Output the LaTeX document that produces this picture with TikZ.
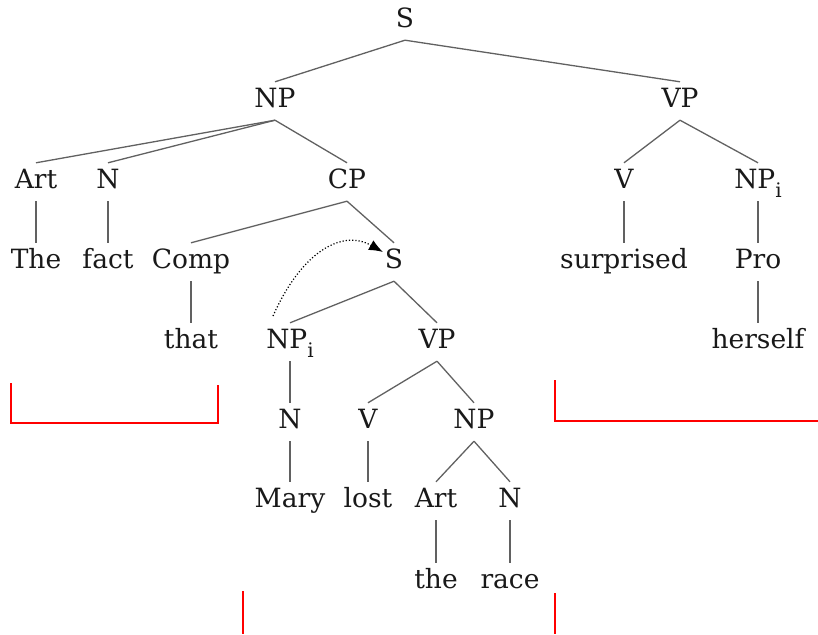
\documentclass[tikz,border=0pt]{standalone}
\usepackage{fontspec}
\setmainfont{DejaVu Serif}
\usetikzlibrary{arrows.meta}
\newcommand{\subi}{\raisebox{-0.32em}{\fontsize{20}{21}\selectfont i}}
\begin{document}
\begin{tikzpicture}[x=1pt,y=-1pt,
  lbl/.style={font=\fontsize{26.5}{29}\selectfont, text height=19pt, text depth=5.5pt, inner xsep=0pt, inner ysep=6.75pt, anchor=center, text=black!90},
  br/.style={draw=black!62, line width=1.3pt},
  bracket/.style={draw=red, line width=1.8pt}]
\useasboundingbox (0,0) rectangle (818,634);
% row 1
\node[lbl] (S) at (405,21) {S};
% row 2
\node[lbl] (NP) at (275,101) {NP};
\node[lbl] (VP) at (680,101) {VP};
% row 3
\node[lbl] (Art) at (36,182) {Art};
\node[lbl] (N) at (108,182) {N};
\node[lbl] (CP) at (347,182) {CP};
\node[lbl] (V) at (624,182) {V};
\node[lbl] (NPi) at (758,182) {NP\subi};
% row 4
\node[lbl] (The) at (36,262) {The};
\node[lbl] (fact) at (108,262) {fact};
\node[lbl] (Comp) at (191,262) {Comp};
\node[lbl] (S2) at (394,262) {S};
\node[lbl] (surprised) at (624,262) {surprised};
\node[lbl] (Pro) at (758,262) {Pro};
% row 5
\node[lbl] (that) at (191,342) {that};
\node[lbl] (NPi2) at (290,342) {NP\subi};
\node[lbl] (VP2) at (437,342) {VP};
\node[lbl] (herself) at (758,342) {herself};
% row 6
\node[lbl] (N2) at (290,422) {N};
\node[lbl] (V2) at (368,422) {V};
\node[lbl] (NP2) at (474,422) {NP};
% row 7
\node[lbl] (Mary) at (290,501) {Mary};
\node[lbl] (lost) at (368,501) {lost};
\node[lbl] (Art2) at (436,501) {Art};
\node[lbl] (N3) at (510,501) {N};
% row 8
\node[lbl] (the) at (436,582) {the};
\node[lbl] (race) at (510,582) {race};
% branches
\draw[br] (S.south) -- (NP.north);
\draw[br] (S.south) -- (VP.north);
\draw[br] (NP.south) -- (Art.north);
\draw[br] (NP.south) -- (N.north);
\draw[br] (NP.south) -- (CP.north);
\draw[br] (VP.south) -- (V.north);
\draw[br] (VP.south) -- (NPi.north);
\draw[br] (Art.south) -- (The.north);
\draw[br] (N.south) -- (fact.north);
\draw[br] (CP.south) -- (Comp.north);
\draw[br] (CP.south) -- (S2.north);
\draw[br] (V.south) -- (surprised.north);
\draw[br] (NPi.south) -- (Pro.north);
\draw[br] (Comp.south) -- (that.north);
\draw[br] (S2.south) -- (NPi2.north);
\draw[br] (S2.south) -- (VP2.north);
\draw[br] (Pro.south) -- (herself.north);
\draw[br] (NPi2.south) -- (N2.north);
\draw[br] (VP2.south) -- (V2.north);
\draw[br] (VP2.south) -- (NP2.north);
\draw[br] (N2.south) -- (Mary.north);
\draw[br] (V2.south) -- (lost.north);
\draw[br] (NP2.south) -- (Art2.north);
\draw[br] (NP2.south) -- (N3.north);
\draw[br] (Art2.south) -- (the.north);
\draw[br] (N3.south) -- (race.north);
% movement arrow
\coordinate (mvA) at (273,316);
\coordinate (mvB) at (383,252);
\draw[dotted, line width=1.2pt, -{Latex[length=14pt,width=11pt]}] (mvA) .. controls (300,255) and (340,228) .. (mvB);
% red brackets
\coordinate (b1) at (11,383); \coordinate (b2) at (11,423);
\coordinate (b3) at (218,423); \coordinate (b4) at (218,385);
\draw[bracket] (b1) -- (b2) -- (b3) -- (b4);
\coordinate (c1) at (555,380); \coordinate (c2) at (555,421); \coordinate (c3) at (818,421);
\draw[bracket] (c1) -- (c2) -- (c3);
\coordinate (d1) at (243,591); \coordinate (d2) at (243,634);
\draw[bracket] (d1) -- (d2);
\coordinate (e1) at (555,593); \coordinate (e2) at (555,634);
\draw[bracket] (e1) -- (e2);
\end{tikzpicture}
\end{document}
